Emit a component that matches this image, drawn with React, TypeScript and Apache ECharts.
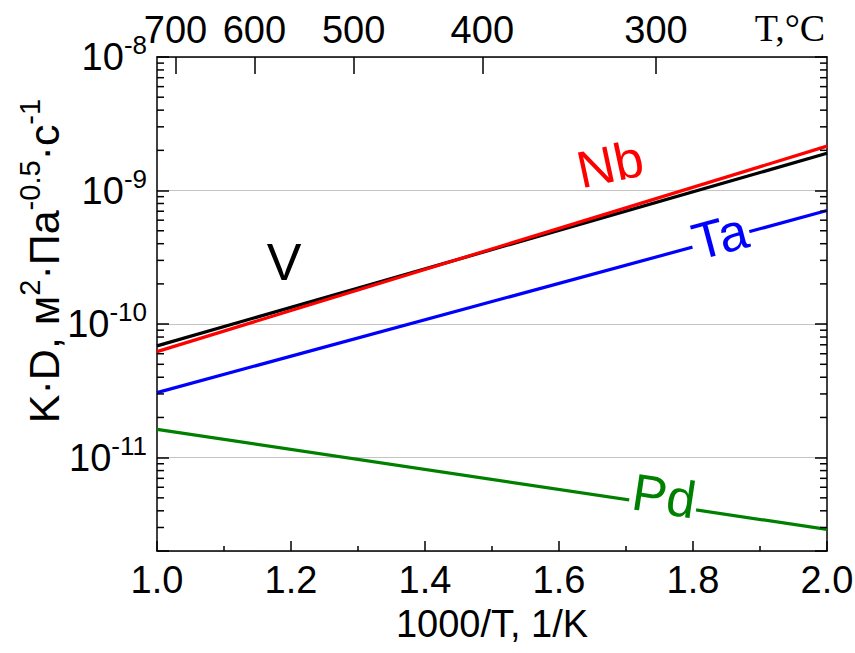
import React, { useEffect, useRef } from 'react';
import * as echarts from 'echarts';

// ---- data ----
const inverseT = [1.0, 2.0]; // 1000/T, 1/K
const seriesV = [6.87e-11, 1.9e-9];
const seriesNb = [6.22e-11, 2.15e-9];
const seriesTa = [3.07e-11, 7.08e-10];
const seriesPd = [1.63e-11, 2.9e-12];
const tempTicksC = [700, 600, 500, 400, 300];
const xMin = 1.0;
const xMax = 2.0;
const xInterval = 0.2;
const yMin = 2e-12;
const yMax = 1e-8;
const decadeExponents = [-12, -11, -10, -9, -8];
const minorMultipliers = [2, 3, 4, 5, 6, 7, 8, 9];

const FONT = '"Liberation Sans", Arial, sans-serif';

const tempPositions = tempTicksC.map((t) => 1000 / (t + 273.15));
const minorTickValues: number[] = [];
decadeExponents.forEach((e) => {
  minorMultipliers.forEach((m) => {
    const v = m * Math.pow(10, e);
    if (v > yMin * 1.0001 && v < yMax) minorTickValues.push(v);
  });
});

const pair = (ys: number[]) => inverseT.map((x, i) => [x, ys[i]]);

export default function App() {
  const ref = useRef<HTMLDivElement>(null);
  useEffect(() => {
    if (!ref.current) return;
    const chart = echarts.init(ref.current, undefined, { renderer: 'svg' });
    const lineSeries = (name: string, data: number[], color: string, z: number) => ({
      name,
      type: 'line',
      data: pair(data),
      showSymbol: false,
      symbol: 'none',
      lineStyle: { color, width: 3.2 },
      z,
      silent: true,
    });
    chart.setOption({
      animation: false,
      backgroundColor: '#fff',
      grid: { left: 157, top: 57, right: 28, bottom: 102, containLabel: false, outerBoundsMode: 'none' },
      xAxis: [
        {
          type: 'value',
          position: 'bottom',
          min: xMin,
          max: xMax,
          interval: xInterval,
          axisLine: { show: true, lineStyle: { color: '#000', width: 1.5 } },
          axisTick: { show: true, inside: true, length: 10, lineStyle: { color: '#000', width: 1.5 } },
          minorTick: { show: true, splitNumber: 2, length: 5, lineStyle: { color: '#000', width: 1.5 } },
          splitLine: { show: false },
          axisLabel: {
            formatter: (v: number) => v.toFixed(1),
            color: '#000',
            fontSize: 38,
            fontFamily: FONT,
            margin: 10,
          },
          name: '1000/T, 1/K',
          nameLocation: 'middle',
          nameGap: 54,
          nameTextStyle: { color: '#000', fontSize: 38, fontFamily: FONT },
        },
        {
          type: 'value',
          position: 'top',
          min: xMin,
          max: xMax,
          axisLine: { show: true, lineStyle: { color: '#000', width: 1.5 } },
          axisTick: {
            show: true,
            inside: true,
            length: 17,
            customValues: tempPositions,
            lineStyle: { color: '#000', width: 1.5 },
          },
          minorTick: { show: false },
          splitLine: { show: false },
          axisLabel: {
            customValues: tempPositions,
            formatter: (v: number) => String(Math.round(1000 / v - 273.15)),
            color: '#000',
            fontSize: 38,
            fontFamily: FONT,
            margin: 8,
          },
        },
      ],
      yAxis: [
        {
          type: 'log',
          logBase: 10,
          position: 'left',
          min: yMin,
          max: yMax,
          axisLine: { show: true, lineStyle: { color: '#000', width: 1.5 } },
          axisTick: { show: true, inside: true, length: 12, lineStyle: { color: '#000', width: 1.5 } },
          splitLine: { show: true, lineStyle: { color: '#c4c4c4', width: 1 } },
          axisLabel: {
            margin: 10,
            formatter: (v: number) => {
              const e = Math.log10(v);
              const r = Math.round(e);
              if (Math.abs(e - r) > 1e-6) return '';
              return `{b|10}{s|${r}}`;
            },
            rich: {
              b: { fontSize: 38, fontFamily: FONT, color: '#000', lineHeight: 50 },
              s: { fontSize: 26, fontFamily: FONT, color: '#000', lineHeight: 26, verticalAlign: 'top' },
            },
          },
        },
        {
          type: 'log',
          logBase: 10,
          position: 'right',
          min: yMin,
          max: yMax,
          axisLine: { show: true, lineStyle: { color: '#000', width: 1.5 } },
          axisTick: { show: true, inside: true, length: 12, lineStyle: { color: '#000', width: 1.5 } },
          splitLine: { show: false },
          axisLabel: { show: false },
        },
      ],
      series: [
        {
          type: 'custom',
          coordinateSystem: 'cartesian2d',
          xAxisIndex: 0,
          yAxisIndex: 0,
          silent: true,
          clip: false,
          z: 5,
          data: minorTickValues.map((v) => [xMin, v]),
          renderItem: (_params: any, api: any) => {
            const v = api.value(1);
            const pL = api.coord([xMin, v]);
            const pR = api.coord([xMax, v]);
            const st = { stroke: '#000', lineWidth: 1.5 };
            return {
              type: 'group',
              children: [
                { type: 'line', shape: { x1: pL[0], y1: pL[1], x2: pL[0] + 7, y2: pL[1] }, style: st },
                { type: 'line', shape: { x1: pR[0] - 7, y1: pR[1], x2: pR[0], y2: pR[1] }, style: st },
              ],
            };
          },
        },
        lineSeries('V', seriesV, '#000000', 2),
        lineSeries('Nb', seriesNb, '#ff0000', 3),
        lineSeries('Ta', seriesTa, '#0000ff', 3),
        lineSeries('Pd', seriesPd, '#008000', 3),
      ],
      graphic: [
        {
          type: 'text',
          x: 44,
          y: 261,
          rotation: Math.PI / 2,
          style: {
            text: 'K·D, м{s|2}·Па{s|-0.5}·с{s|-1}',
            font: '43px ' + FONT,
            fill: '#000',
            align: 'center',
            verticalAlign: 'middle',
            lineHeight: 58,
            rich: {
              s: { fontSize: 29, fontFamily: FONT, fill: '#000', lineHeight: 29, verticalAlign: 'top' },
            },
          },
        },
        {
          type: 'text',
          x: 790,
          y: 28,
          style: { text: 'T,°C', font: '38px "Liberation Serif", "Times New Roman", serif', fill: '#000', align: 'center', verticalAlign: 'middle' },
        },
        {
          type: 'text',
          x: 284,
          y: 262,
          z: 10,
          style: { text: 'V', font: '52px ' + FONT, fill: '#000', align: 'center', verticalAlign: 'middle' },
        },
        {
          type: 'text',
          x: 610,
          y: 164,
          rotation: 0.21,
          z: 10,
          style: { text: 'Nb', font: '52px ' + FONT, fill: '#ff0000', align: 'center', verticalAlign: 'middle' },
        },
        {
          type: 'text',
          x: 720,
          y: 236,
          rotation: 0.26,
          z: 10,
          style: {
            text: 'Ta',
            font: '52px ' + FONT,
            fill: '#0000ff',
            align: 'center',
            verticalAlign: 'middle',
            backgroundColor: '#ffffff',
            padding: [0, 2, 0, 2],
          },
        },
        {
          type: 'text',
          x: 664,
          y: 496,
          rotation: -0.15,
          z: 10,
          style: {
            text: 'Pd',
            font: '52px ' + FONT,
            fill: '#008000',
            align: 'center',
            verticalAlign: 'middle',
            backgroundColor: '#ffffff',
            padding: [0, 2, 0, 2],
          },
        },
      ],
    });
    return () => chart.dispose();
  }, []);
  return (
    <div
      ref={ref}
      style={{ position: 'fixed', left: 0, top: 0, width: 855, height: 653, background: '#fff' }}
    />
  );
}
